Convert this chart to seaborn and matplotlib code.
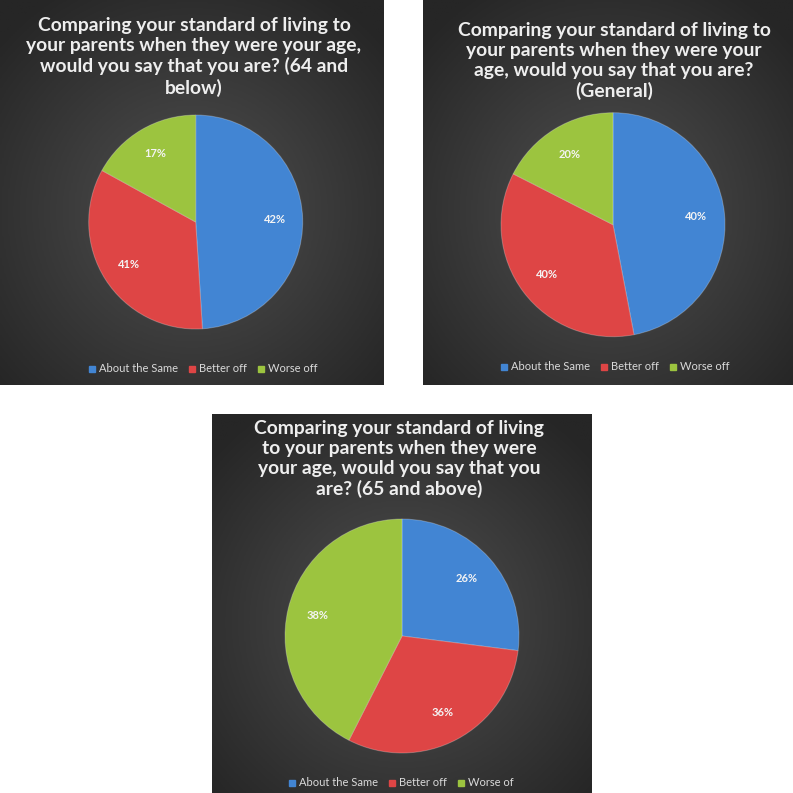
import numpy as np
import matplotlib.pyplot as plt
import seaborn as sns
from matplotlib.lines import Line2D

# categories and legend texts
categories = ["About the Same", "Better off", "Worse off"]
legend_65 = ["About the Same", "Better off", "Worse of"]

titles = [
    "Comparing your standard of living to\nyour parents when they were your age,\nwould you say that you are? (64 and\nbelow)",
    "Comparing your standard of living to\nyour parents when they were your\nage, would you say that you are?\n(General)",
    "Comparing your standard of living\nto your parents when they were\nyour age, would you say that you\nare? (65 and above)",
]

# slice shares as drawn in the picture
shares_64 = [49, 34, 17]
shares_general = [47, 35.5, 17.5]
shares_65 = [27, 30.5, 42.5]

# percentage labels as printed on the slices
labels_64 = ["42%", "41%", "17%"]
labels_general = ["40%", "40%", "20%"]
labels_65 = ["26%", "36%", "38%"]

sns.set_theme(style="dark")
plt.rcParams['font.family'] = ['Lato', 'DejaVu Sans']
colors = sns.color_palette(["#4285d3", "#de4545", "#9cc43f"])

W = H = 793.0
fig = plt.figure(figsize=(7.93, 7.93), dpi=100)
fig.patch.set_facecolor("white")


def rect(x0, y0, x1, y1):
    # pixel box (top-left origin) -> figure fraction
    return [x0 / W, 1 - y1 / H, (x1 - x0) / W, (y1 - y0) / H]


# radial gradient for the panel backgrounds
gy, gx = np.mgrid[-1:1:200j, -1:1:200j]
grad = np.clip(np.sqrt(gx ** 2 + (gy + 0.1) ** 2) / 1.35, 0, 1)

panels = [
    # box, pie centre, radius, title centre, legend centre
    dict(box=(0, 0, 384, 385), c=(195.7, 222), r=107, t=(194, 57), l=(203, 369),
         shares=shares_64, labels=labels_64, leg=categories),
    dict(box=(423, 0, 793, 385), c=(613, 224.7), r=112, t=(614, 61), l=(615, 367),
         shares=shares_general, labels=labels_general, leg=categories),
    dict(box=(212, 414, 592, 793), c=(402, 636), r=117, t=(399, 459), l=(401, 783),
         shares=shares_65, labels=labels_65, leg=legend_65),
]

for p, title in zip(panels, titles):
    x0, y0, x1, y1 = p["box"]
    bg = fig.add_axes(rect(x0, y0, x1, y1))
    bg.imshow(grad, cmap=sns.blend_palette(["#505050", "#3b3b3b", "#262626"], as_cmap=True),
              extent=[0, 1, 0, 1], aspect="auto", origin="lower")
    bg.set_xlim(0, 1)
    bg.set_ylim(0, 1)
    bg.axis("off")

    tx, ty = p["t"]
    fig.text(tx / W, 1 - ty / H, title, ha="center", va="center",
             fontsize=13.9, fontweight="bold", color="#eeeeee", linespacing=1.2)

    cx, cy = p["c"]
    r = p["r"]
    ax = fig.add_axes(rect(cx - r, cy - r, cx + r, cy + r))
    wedges, texts = ax.pie(p["shares"], labels=p["labels"], labeldistance=0.74,
                           startangle=90, counterclock=False, colors=colors,
                           wedgeprops=dict(edgecolor=(1, 1, 1, 0.25), linewidth=0.7))
    for t in texts:
        t.set_ha("center")
        t.set_va("center")
        t.set_color("#f4f4f4")
        t.set_fontsize(8)
        t.set_fontweight("bold")
    ax.set_xlim(-1, 1)
    ax.set_ylim(-1, 1)
    ax.axis("off")

    lx, ly = p["l"]
    handles = [Line2D([], [], marker="s", ls="", color=c, markersize=4.5) for c in colors]
    fig.legend(handles, p["leg"], loc="center", ncol=3, frameon=False,
               bbox_to_anchor=(lx / W, 1 - ly / H), fontsize=8,
               labelcolor="#dadada", handlelength=0.7, handletextpad=0.3,
               columnspacing=0.9)

fig.savefig("out.png", dpi=100, facecolor="white")
